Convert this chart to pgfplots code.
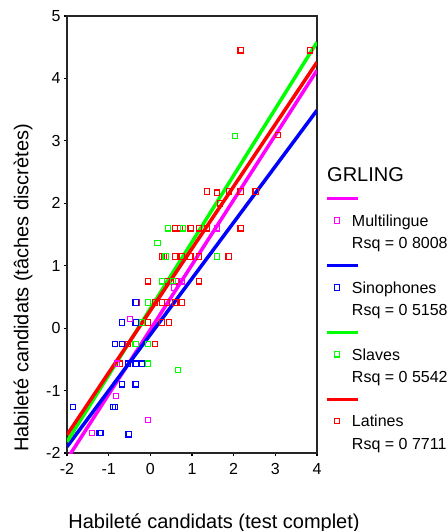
\documentclass[border=0pt]{standalone}
\usepackage{pgfplots}
\pgfplotsset{compat=1.18}
\usepackage{fontspec}
\setmainfont{Liberation Sans}
\definecolor{cR}{RGB}{255,0,0}
\definecolor{cG}{RGB}{0,255,0}
\definecolor{cB}{RGB}{0,0,255}
\definecolor{cM}{RGB}{255,0,255}
\begin{document}
\begin{tikzpicture}
\begin{axis}[
  at={(0,0)}, anchor=south west,
  width=250pt, height=437pt, scale only axis,
  xmin=-2, xmax=4, ymin=-2, ymax=5,
  xtick={-2,-1,0,1,2,3,4}, ytick={-2,-1,0,1,2,3,4,5},
  xtick pos=bottom, ytick pos=left,
  /pgf/number format/assume math mode=true,
  tick label style={font=\fontsize{16}{19}\selectfont},
  xticklabel style={yshift=-4pt},
  tick align=outside, major tick length=3pt,
  tick style={black, line width=1.2pt},
  axis line style={black!85, line width=1.3pt},
  xlabel={Habileté candidats (test complet)},
  ylabel={Habileté candidats (tâches discrètes)},
  label style={font=\fontsize{20}{24}\selectfont},
  xlabel style={at={(axis description cs:0.588,-0.16)}, anchor=center},
  ylabel style={at={(axis description cs:-0.176,0.378)}, anchor=center},
  legend style={draw=none, fill=none, at={(1.08,0.602)}, anchor=north west,
    inner sep=0pt, outer sep=0pt, row sep=4.8pt, column sep=13pt,
    font=\fontsize{16}{19}\selectfont,
    cells={anchor=west, inner xsep=0pt, inner ysep=0pt, text height=12pt, text depth=4pt}},
  mark size=2.7pt,
]
% Latines (red)
\addplot[forget plot, only marks, mark=square, color=cR, mark options={draw=cR, fill=none, line width=1.1pt}] coordinates {
(2.17,4.45) (3.83,4.45) (3.06,3.09)
(1.36,2.19) (1.6,2.17) (1.89,2.19) (2.17,2.19) (2.53,2.19) (1.67,2.0)
(0.59,1.6) (0.71,1.6) (0.97,1.6) (1.17,1.6) (1.36,1.6) (2.17,1.6)
(0.28,1.15) (0.33,1.15) (0.6,1.15) (0.76,1.15) (0.96,1.15) (1.17,1.15) (1.88,1.15)
(-0.06,0.75) (0.4,0.75) (0.63,0.75) (1.17,0.75)
(-0.33,0.41) (0.11,0.41) (0.28,0.41) (0.4,0.41) (0.6,0.41) (0.76,0.41)
(-0.06,0.09) (0.28,0.09) (0.45,0.09)
(-0.53,-0.25) (0.11,-0.25)
(-0.73,-0.57)
};
% Slaves (green)
\addplot[forget plot, only marks, mark=square, color=cG, mark options={draw=cG, fill=none, line width=1.1pt}] coordinates {
(2.03,3.08) (0.42,1.6) (0.78,1.6) (0.17,1.36) (0.37,1.15) (1.6,1.15)
(0.28,0.75) (0.55,0.75) (-0.06,0.41) (-0.2,0.09) (-0.35,-0.25) (-0.06,-0.25)
(-0.06,-0.57) (0.66,-0.67)
};
% Sinophones (blue)
\addplot[forget plot, only marks, mark=square, color=cB, mark options={draw=cB, fill=none, line width=1.1pt}] coordinates {
(-0.35,0.41) (-0.68,0.09) (-0.35,0.09) (-0.85,-0.25) (-0.68,-0.25)
(-0.53,-0.57) (-0.35,-0.57) (-0.2,-0.57) (-0.68,-0.9) (-0.35,-0.9)
(-1.86,-1.26) (-0.9,-1.26) (-0.85,-1.26) (-1.22,-1.68) (-1.19,-1.68) (-0.52,-1.7)
};
% Multilingue (magenta)
\addplot[forget plot, only marks, mark=square, color=cM, mark options={draw=cM, fill=none, line width=1.1pt}] coordinates {
(1.6,1.6) (0.75,0.75) (0.57,0.65) (-0.49,0.15) (-0.8,-0.57) (-0.82,-1.09)
(-0.06,-1.47) (-1.4,-1.68)
};
% regression lines
\addplot[forget plot, color=cM, line width=3.5pt] coordinates {(-2,-2.1) (4,4.13)};
\addplot[forget plot, color=cB, line width=3.5pt] coordinates {(-2,-1.9) (4,3.49)};
\addplot[forget plot, color=cG, line width=3.5pt] coordinates {(-2,-1.82) (4,4.58)};
\addplot[forget plot, color=cR, line width=3.5pt] coordinates {(-2,-1.71) (4,4.26)};
% legend
\addlegendimage{legend image code/.code={\draw[overlay, cM, line width=3.5pt] (-10pt,0pt) -- (21pt,0pt);}}
\addlegendentry{}
\addlegendimage{legend image code/.code={\draw[overlay, cM, line width=1.1pt] (-2.7pt,-2.2pt) rectangle (2.7pt,3.2pt);}}
\addlegendentry{Multilingue}
\addlegendimage{legend image code/.code={}}
\addlegendentry{Rsq = 0 8008}
\addlegendimage{legend image code/.code={\draw[overlay, cB, line width=3.5pt] (-10pt,0pt) -- (21pt,0pt);}}
\addlegendentry{}
\addlegendimage{legend image code/.code={\draw[overlay, cB, line width=1.1pt] (-2.7pt,-2.2pt) rectangle (2.7pt,3.2pt);}}
\addlegendentry{Sinophones}
\addlegendimage{legend image code/.code={}}
\addlegendentry{Rsq = 0 5158}
\addlegendimage{legend image code/.code={\draw[overlay, cG, line width=3.5pt] (-10pt,0pt) -- (21pt,0pt);}}
\addlegendentry{}
\addlegendimage{legend image code/.code={\draw[overlay, cG, line width=1.1pt] (-2.7pt,-2.2pt) rectangle (2.7pt,3.2pt);}}
\addlegendentry{Slaves}
\addlegendimage{legend image code/.code={}}
\addlegendentry{Rsq = 0 5542}
\addlegendimage{legend image code/.code={\draw[overlay, cR, line width=3.5pt] (-10pt,0pt) -- (21pt,0pt);}}
\addlegendentry{}
\addlegendimage{legend image code/.code={\draw[overlay, cR, line width=1.1pt] (-2.7pt,-2.2pt) rectangle (2.7pt,3.2pt);}}
\addlegendentry{Latines}
\addlegendimage{legend image code/.code={}}
\addlegendentry{Rsq = 0 7711}
\end{axis}
\node[anchor=west, inner sep=0pt, font=\fontsize{20}{24}\selectfont] at (260pt,278pt) {GRLING};
\pgfresetboundingbox
\path[use as bounding box] (-67pt,-78pt) rectangle (380pt,453pt);
\end{tikzpicture}
\end{document}
